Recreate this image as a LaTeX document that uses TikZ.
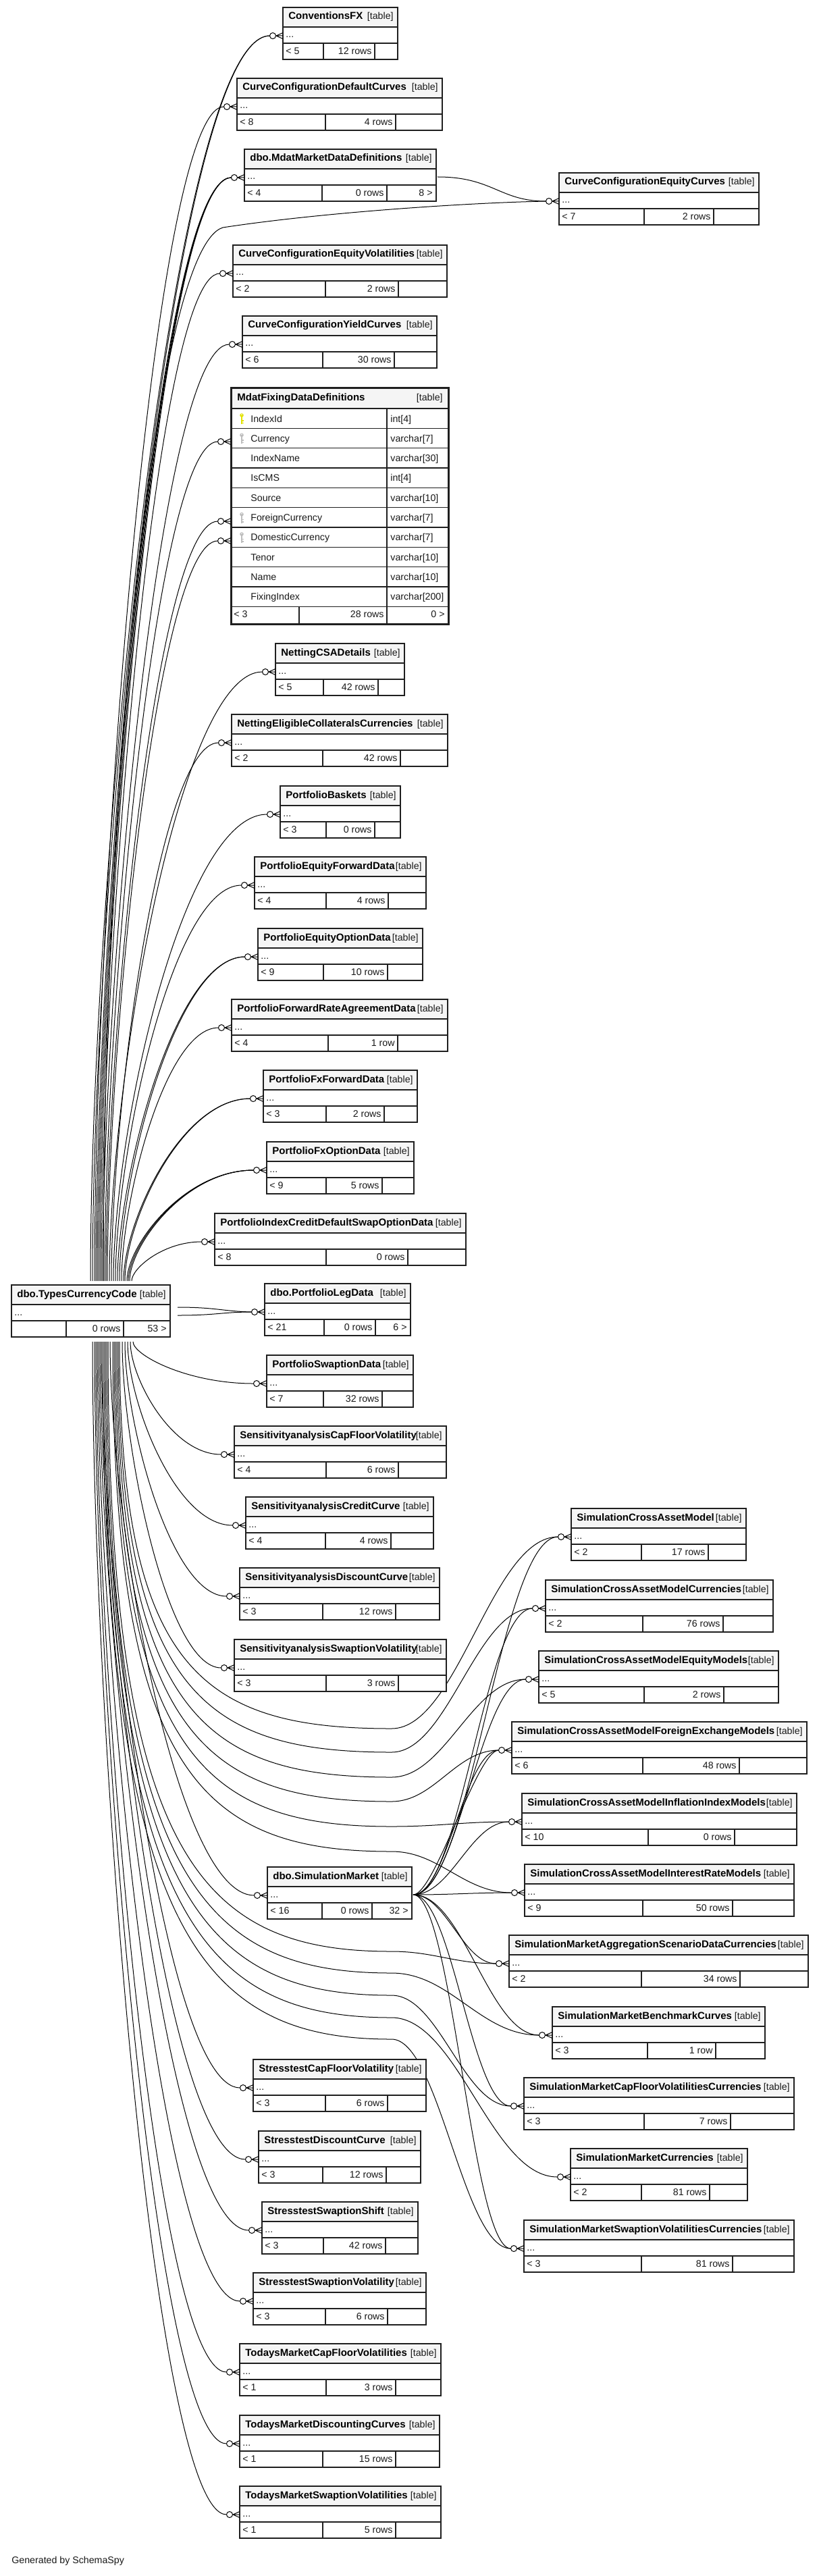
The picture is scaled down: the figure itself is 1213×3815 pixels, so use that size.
\documentclass[tikz,border=0pt]{standalone}
\usepackage{fontspec}
\usepackage{graphicx}
\setmainfont{Liberation Sans}
\pgfdeclarelayer{back}
\pgfdeclarelayer{bg}
\pgfsetlayers{back,bg,main}
\tikzset{
 tline/.style={draw=black!88,line width=0.6pt},
 conn/.style={draw=black,line width=0.5pt},
 reg/.style={font=\fontsize{7.1}{8.5}\selectfont,inner sep=0pt,text=black!90},
}
\newcommand\ttlfont{\bfseries\fontsize{7.5}{9}\selectfont}
\newsavebox\ttlbox
\newlength\ttllen
\def\splitpair#1/#2\relax{\def\sA{#1}\def\sB{#2}}
% table: name, x1, y1, x2, title, left, rows, right, s1/s2
\newcommand\tbl[9]{%
 \splitpair#9\relax
 \expandafter\xdef\csname tx@#1\endcsname{#2}%
 \expandafter\xdef\csname ty@#1\endcsname{#3}%
 \fill[white] (#2,#3) rectangle (#4,#3+77);
 \fill[black!4] (#2,#3) rectangle (#4,#3+29);
 \draw[tline] (#2,#3+29) -- (#4,#3+29) (#2,#3+53) -- (#4,#3+53)
   (\sA,#3+53) -- (\sA,#3+77) (\sB,#3+53) -- (\sB,#3+77);
 \draw[tline] (#2,#3) rectangle (#4,#3+77);
 \pgfmathsetmacro\myAV{(#4-#2-59)*0.5}%
 \setbox\ttlbox=\hbox{\normalfont\ttlfont #5}%
 \setlength\ttllen{\wd\ttlbox}%
 \pgfmathsetmacro\myTW{max(\ttllen,1)}%
 \pgfmathsetmacro\myRT{min(1,\myAV/\myTW)}%
 \node[anchor=base west,inner sep=0pt] (#1) at (#2+8,#3+18) {\scalebox{\myRT}[1]{\ttlfont #5}};
 \node[reg,anchor=base east] at (#4-6,#3+18) {[table]};
 \node[reg,anchor=base west] at (#2+4,#3+45) {...};
 \node[reg,anchor=base west] at (#2+4,#3+69.5) {#6};
 \node[reg,anchor=base east] at (\sB-4,#3+69.5) {#7};
 \node[reg,anchor=base east] at (#4-5,#3+69.5) {#8};
}
\newcommand\crow[2]{%
 \draw[conn] (#1-10,#2) -- (#1,#2) (#1-10,#2) -- (#1,#2-4.5) (#1-10,#2) -- (#1,#2+4.5);
 \draw[conn,fill=white] (#1-15,#2) circle[radius=2.25pt];
}
\newcommand\mk[1]{%
 \edef\myTX{\csname tx@#1\endcsname}\edef\myTY{\csname ty@#1\endcsname}%
 \pgfmathsetmacro\myEY{\myTY+42}%
 \coordinate (#1-in) at (\myTX-19.5,\myEY);
 \crow{\myTX}{\myEY}}
\newcommand\getend[1]{%
 \edef\myTX{\csname tx@#1\endcsname}\edef\myTY{\csname ty@#1\endcsname}%
 \pgfmathsetmacro\myEX{\myTX-19.5}\pgfmathsetmacro\myEY{\myTY+42}}
% generic up edge: target coord, sx, ex, ey
\newcommand\upg[4]{%
 \pgfmathsetmacro\myCY{1897-0.32*(1897-#4)}%
 \pgfmathsetmacro\myCX{#3-0.55*(#3-#2)}%
 \coordinate (#1-s#2) at (#2,1897);
 \draw[conn] (#1-s#2) .. controls (#2,\myCY) and (\myCX,#4) .. (#1);}
\newcommand\upe[2]{\getend{#1}\upg{#1-in}{#2}{\myEX}{\myEY}}
\newcommand\dne[2]{\getend{#1}%
 \pgfmathsetmacro\myCY{1987+0.32*(\myEY-1987)}%
 \pgfmathsetmacro\myCX{\myEX-0.55*(\myEX-#2)}%
 \coordinate (#1-s#2) at (#2,1987);
 \draw[conn] (#1-s#2) .. controls (#2,\myCY) and (\myCX,\myEY) .. (#1-in);}
% Types -> right column through a waypoint
\newcommand\rte[3]{\getend{#1}%
 \pgfmathsetmacro\myCY{1987+0.85*(#3-1987)}%
 \pgfmathsetmacro\myQA{580+0.4*(\myEX-580)}%
 \pgfmathsetmacro\myQB{\myEX-0.4*(\myEX-580)}%
 \coordinate (#1-s#2) at (#2,1987);
 \draw[conn] (#1-s#2) .. controls (#2,\myCY) and (300,#3) .. (580,#3) .. controls (\myQA,#3) and (\myQB,\myEY) .. (#1-in);}
% SimulationMarket -> right column
\newcommand\sme[2]{\getend{#1}%
 \pgfmathsetmacro\myQA{612+#2*(\myEX-612)}%
 \pgfmathsetmacro\myQB{\myEX-#2*(\myEX-612)}%
 \draw[conn] (sm-out) .. controls (\myQA,2806) and (\myQB,\myEY) .. (#1-in);}
\newcommand\keyic[2]{%
 \fill[#2] (358,#1+10) circle[radius=1.4pt];
 \fill[#2] (357.1,#1+10) rectangle (359.1,#1+23);
 \fill[#2] (359.1,#1+17) rectangle (361,#1+18.5);
 \fill[#2] (359.1,#1+20.5) rectangle (361,#1+22);
 \fill[white] (358,#1+9) circle[radius=0.45pt];}
\newcommand\frow[3]{%
 \pgfmathsetmacro\myRY{605+29.33*#1+20}%
 \node[reg,anchor=base west] at (371,\myRY) {#2};
 \node[reg,anchor=base west] at (578,\myRY) {#3};}
\definecolor{pkey}{HTML}{E2E200}
\definecolor{fkey}{HTML}{BDBDBD}
\begin{document}
\begin{tikzpicture}[x=0.5pt,y=-0.5pt]
\useasboundingbox (0,0) rectangle (1213,3815);
\begin{pgfonlayer}{back}\fill[white] (0,0) rectangle (1213,3815);\end{pgfonlayer}

% ---- middle column ----
\tbl{conv}{419}{11}{589}{ConventionsFX}{< 5}{12 rows}{}{479/555}
\tbl{ccdef}{351}{116}{655}{CurveConfigurationDefaultCurves}{< 8}{4 rows}{}{482/586}
\tbl{mdat}{362}{221}{646}{dbo.MdatMarketDataDefinitions}{< 4}{0 rows}{8 >}{477/573}
\tbl{cceqv}{345}{363}{662}{CurveConfigurationEquityVolatilities}{< 2}{2 rows}{}{482/590}
\tbl{ccyc}{359}{468}{647}{CurveConfigurationYieldCurves}{< 6}{30 rows}{}{478/584}
\tbl{cceqc}{828}{256}{1124}{CurveConfigurationEquityCurves}{< 7}{2 rows}{}{954/1057}
\tbl{ncsa}{408}{953}{599}{NettingCSADetails}{< 5}{42 rows}{}{479/560}
\tbl{nelig}{343}{1058}{663}{NettingEligibleCollateralsCurrencies}{< 2}{42 rows}{}{478/593}
\tbl{pbask}{415}{1164}{593}{PortfolioBaskets}{< 3}{0 rows}{}{483/555}
\tbl{pef}{377}{1269}{631}{PortfolioEquityForwardData}{< 4}{4 rows}{}{483/575}
\tbl{peo}{382}{1375}{626}{PortfolioEquityOptionData}{< 9}{10 rows}{}{479/574}
\tbl{pfra}{343}{1480}{663}{PortfolioForwardRateAgreementData}{< 4}{1 row}{}{486/589}
\tbl{pfxf}{390}{1585}{618}{PortfolioFxForwardData}{< 3}{2 rows}{}{483/569}
\tbl{pfxo}{395}{1691}{613}{PortfolioFxOptionData}{< 9}{5 rows}{}{483/566}
\tbl{picds}{318}{1797}{690}{PortfolioIndexCreditDefaultSwapOptionData}{< 8}{0 rows}{}{483/604}
\tbl{types}{17}{1903}{252}{dbo.TypesCurrencyCode}{}{0 rows}{53 >}{98/183}
\tbl{pleg}{392}{1901}{608}{dbo.PortfolioLegData}{< 21}{0 rows}{6 >}{480/556}
\tbl{pswap}{395}{2007}{612}{PortfolioSwaptionData}{< 7}{32 rows}{}{479/566}
\tbl{scf}{347}{2112}{661}{SensitivityanalysisCapFloorVolatility}{< 4}{6 rows}{}{483/590}
\tbl{scc}{364}{2217}{642}{SensitivityanalysisCreditCurve}{< 4}{4 rows}{}{482/579}
\tbl{sdc}{355}{2322}{651}{SensitivityanalysisDiscountCurve}{< 3}{12 rows}{}{478/586}
\tbl{ssv}{347}{2428}{661}{SensitivityanalysisSwaptionVolatility}{< 3}{3 rows}{}{483/590}
\tbl{sm}{396}{2765}{610}{dbo.SimulationMarket}{< 16}{0 rows}{32 >}{477/551}
\tbl{stcf}{375}{3050}{631}{StresstestCapFloorVolatility}{< 3}{6 rows}{}{482/574}
\tbl{stdc}{383}{3156}{623}{StresstestDiscountCurve}{< 3}{12 rows}{}{478/572}
\tbl{stss}{388}{3261}{619}{StresstestSwaptionShift}{< 3}{42 rows}{}{479/571}
\tbl{stsv}{375}{3366}{631}{StresstestSwaptionVolatility}{< 3}{6 rows}{}{482/574}
\tbl{tmcf}{355}{3471}{653}{TodaysMarketCapFloorVolatilities}{< 1}{3 rows}{}{483/586}
\tbl{tmdc}{355}{3577}{651}{TodaysMarketDiscountingCurves}{< 1}{15 rows}{}{478/586}
\tbl{tmsv}{355}{3682}{653}{TodaysMarketSwaptionVolatilities}{< 1}{5 rows}{}{478/586}

% ---- right column ----
\tbl{scam}{846}{2234}{1105}{SimulationCrossAssetModel}{< 2}{17 rows}{}{950/1049}
\tbl{scamc}{808}{2340}{1145}{SimulationCrossAssetModelCurrencies}{< 2}{76 rows}{}{952/1071}
\tbl{scame}{798}{2445}{1153}{SimulationCrossAssetModelEquityModels}{< 5}{2 rows}{}{954/1072}
\tbl{scamf}{758}{2550}{1195}{SimulationCrossAssetModelForeignExchangeModels}{< 6}{48 rows}{}{952/1095}
\tbl{scami}{773}{2656}{1180}{SimulationCrossAssetModelInflationIndexModels}{< 10}{0 rows}{}{960/1088}
\tbl{scamr}{777}{2761}{1176}{SimulationCrossAssetModelInterestRateModels}{< 9}{50 rows}{}{952/1085}
\tbl{smag}{754}{2866}{1197}{SimulationMarketAggregationScenarioDataCurrencies}{< 2}{34 rows}{}{950/1096}
\tbl{smbc}{818}{2972}{1133}{SimulationMarketBenchmarkCurves}{< 3}{1 row}{}{959/1060}
\tbl{smcf}{776}{3077}{1176}{SimulationMarketCapFloorVolatilitiesCurrencies}{< 3}{7 rows}{}{954/1082}
\tbl{smcu}{845}{3182}{1107}{SimulationMarketCurrencies}{< 2}{81 rows}{}{950/1051}
\tbl{smsv}{776}{3288}{1176}{SimulationMarketSwaptionVolatilitiesCurrencies}{< 3}{81 rows}{}{950/1085}

% ---- MdatFixingDataDefinitions (detailed) ----
\fill[white] (342,574) rectangle (664,924);
\fill[black!4] (342,574) rectangle (664,605);
\foreach \i in {0,...,10} {\draw[tline] (342,605+29.33*\i) -- (664,605+29.33*\i);}
\draw[tline] (573,605) -- (573,924) (443,898.3) -- (443,924);
\draw[draw=black!88,line width=1.5pt] (342,574) rectangle (664,924);
\node[anchor=base west,inner sep=0pt,font=\ttlfont] (mfd) at (351,593) {MdatFixingDataDefinitions};
\node[reg,anchor=base east] at (656,593) {[table]};
\frow{0}{IndexId}{int[4]}
\frow{1}{Currency}{varchar[7]}
\frow{2}{IndexName}{varchar[30]}
\frow{3}{IsCMS}{int[4]}
\frow{4}{Source}{varchar[10]}
\frow{5}{ForeignCurrency}{varchar[7]}
\frow{6}{DomesticCurrency}{varchar[7]}
\frow{7}{Tenor}{varchar[10]}
\frow{8}{Name}{varchar[10]}
\frow{9}{FixingIndex}{varchar[200]}
\keyic{605}{pkey}
\keyic{634.33}{fkey}
\keyic{751.65}{fkey}
\keyic{780.98}{fkey}
\node[reg,anchor=base west] at (346,914) {< 3};
\node[reg,anchor=base east] at (569,914) {28 rows};
\node[reg,anchor=base east] at (659,914) {0 >};
\coordinate (mfd-in1) at (322.5,654);
\coordinate (mfd-in2) at (322.5,772);
\coordinate (mfd-in3) at (322.5,801);
\crow{342}{654}\crow{342}{772}\crow{342}{801}

% ---- crow markers / entry points ----
\mk{conv}\mk{ccdef}\mk{mdat}\mk{cceqv}\mk{ccyc}\mk{cceqc}
\mk{ncsa}\mk{nelig}\mk{pbask}\mk{pef}\mk{peo}\mk{pfra}\mk{pfxf}\mk{pfxo}\mk{picds}
\mk{pleg}\mk{pswap}\mk{scf}\mk{scc}\mk{sdc}\mk{ssv}\mk{sm}
\mk{stcf}\mk{stdc}\mk{stss}\mk{stsv}\mk{tmcf}\mk{tmdc}\mk{tmsv}
\mk{scam}\mk{scamc}\mk{scame}\mk{scamf}\mk{scami}\mk{scamr}
\mk{smag}\mk{smbc}\mk{smcf}\mk{smcu}\mk{smsv}

\coordinate (mdat-out) at (648,262);
\coordinate (sm-out) at (612,2806);
\coordinate (types-r1) at (263,1936);
\coordinate (types-r2) at (263,1948);
\coordinate (cceqc-s) at (153,1897);

\node[reg,anchor=base west] (gen) at (17,3796) {Generated by SchemaSpy};

% ---- connectors ----
\begin{pgfonlayer}{bg}
\upe{conv}{134}\upe{conv}{137}
\upe{ccdef}{140}
\upe{mdat}{142}\upe{mdat}{144}\upe{mdat}{146}\upe{mdat}{148}
\upe{cceqv}{150}
\upe{ccyc}{152}
\draw[conn] (cceqc-s) .. controls (153,1150) and (230,368) .. (330,337) .. controls (480,314) and (700,300) .. (cceqc-in);
\draw[conn] (mdat-out) .. controls (730,262) and (740,298) .. (cceqc-in);
\upg{mfd-in1}{155}{322.5}{654}
\upg{mfd-in2}{157}{322.5}{772}
\upg{mfd-in3}{159}{322.5}{801}
\upe{ncsa}{162}\upe{nelig}{165}\upe{pbask}{168}\upe{pef}{171}
\upe{peo}{174}\upe{peo}{177}\upe{pfra}{180}
\upe{pfxf}{183}\upe{pfxf}{185}
\upe{pfxo}{188}\upe{pfxo}{190}\upe{pfxo}{192}
\upe{picds}{195}
\draw[conn] (types-r1) .. controls (320,1936) and (330,1942) .. (pleg-in);
\draw[conn] (types-r2) .. controls (320,1948) and (330,1943) .. (pleg-in);
\dne{pswap}{197}\dne{scf}{193}\dne{scc}{189}\dne{sdc}{185}\dne{ssv}{181}
\dne{sm}{163}
\dne{stcf}{150}\dne{stdc}{148}\dne{stss}{146}\dne{stsv}{144}
\dne{tmcf}{142}\dne{tmdc}{140}\dne{tmsv}{137}
\rte{scam}{177}{2560}
\rte{scamc}{175}{2595}
\rte{scame}{173}{2632}
\rte{scamf}{171}{2668}
\rte{scami}{169}{2705}
\rte{scamr}{167}{2742}
\rte{smag}{160}{2890}
\rte{smbc}{158}{2922}
\rte{smcf}{156}{2955}
\rte{smcu}{154}{2988}
\rte{smsv}{152}{3020}
\sme{scam}{0.4}\sme{scamc}{0.4}\sme{scame}{0.4}
\sme{scamf}{0.4}\sme{scamf}{0.25}
\sme{scami}{0.4}\sme{scamr}{0.4}
\sme{smag}{0.4}\sme{smbc}{0.4}\sme{smcf}{0.4}\sme{smsv}{0.4}
\end{pgfonlayer}
\end{tikzpicture}
\end{document}
